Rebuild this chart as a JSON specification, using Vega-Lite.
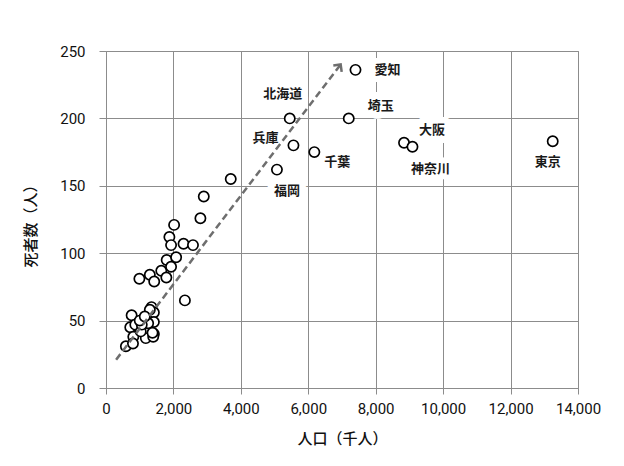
{
  "$schema": "https://vega.github.io/schema/vega-lite/v6.json",
  "autosize": {"type": "none"},
  "padding": {"left": 106, "top": 51, "right": 46, "bottom": 78},
  "width": 472,
  "height": 337,
  "background": "white",
  "config": {
    "view": {"stroke": "#8c8c8c", "strokeWidth": 1},
    "axis": {
      "gridColor": "#8c8c8c", "gridOpacity": 1, "gridWidth": 1,
      "domainColor": "#8c8c8c", "tickColor": "#8c8c8c",
      "labelFont": "Roboto", "labelFontSize": 15, "labelColor": "#111111", "labelOverlap": false, "labelFlush": false,
      "titleFont": "Noto Sans CJK JP", "titleFontSize": 15, "titleFontWeight": 500, "titleColor": "#111111"
    }
  },
  "datasets": {
    "pts": [
      {"name": "愛知", "pop": 7400, "deaths": 236},
      {"name": "北海道", "pop": 5450, "deaths": 200},
      {"name": "埼玉", "pop": 7200, "deaths": 200},
      {"name": "兵庫", "pop": 5560, "deaths": 180},
      {"name": "千葉", "pop": 6180, "deaths": 175},
      {"name": "福岡", "pop": 5070, "deaths": 162},
      {"name": "大阪", "pop": 8840, "deaths": 182},
      {"name": "神奈川", "pop": 9090, "deaths": 179},
      {"name": "東京", "pop": 13250, "deaths": 183},
      {"name": "", "pop": 590, "deaths": 31},
      {"name": "", "pop": 720, "deaths": 45},
      {"name": "", "pop": 760, "deaths": 54},
      {"name": "", "pop": 810, "deaths": 38},
      {"name": "", "pop": 800, "deaths": 33},
      {"name": "", "pop": 870, "deaths": 47},
      {"name": "", "pop": 990, "deaths": 81},
      {"name": "", "pop": 1120, "deaths": 51},
      {"name": "", "pop": 1170, "deaths": 41},
      {"name": "", "pop": 1180, "deaths": 37},
      {"name": "", "pop": 1300, "deaths": 84},
      {"name": "", "pop": 1350, "deaths": 60},
      {"name": "", "pop": 1420, "deaths": 56},
      {"name": "", "pop": 1430, "deaths": 79},
      {"name": "", "pop": 1420, "deaths": 40},
      {"name": "", "pop": 1420, "deaths": 49},
      {"name": "", "pop": 1300, "deaths": 58},
      {"name": "", "pop": 1030, "deaths": 42},
      {"name": "", "pop": 1250, "deaths": 48},
      {"name": "", "pop": 1640, "deaths": 87},
      {"name": "", "pop": 1790, "deaths": 82},
      {"name": "", "pop": 1800, "deaths": 95},
      {"name": "", "pop": 1880, "deaths": 112},
      {"name": "", "pop": 1930, "deaths": 106},
      {"name": "", "pop": 1930, "deaths": 90},
      {"name": "", "pop": 2020, "deaths": 121},
      {"name": "", "pop": 2080, "deaths": 97},
      {"name": "", "pop": 2300, "deaths": 107},
      {"name": "", "pop": 2340, "deaths": 65},
      {"name": "", "pop": 2580, "deaths": 106},
      {"name": "", "pop": 2800, "deaths": 126},
      {"name": "", "pop": 2900, "deaths": 142},
      {"name": "", "pop": 3700, "deaths": 155},
      {"name": "", "pop": 1400, "deaths": 38},
      {"name": "", "pop": 1060, "deaths": 47},
      {"name": "", "pop": 1000, "deaths": 50},
      {"name": "", "pop": 1150, "deaths": 53},
      {"name": "", "pop": 1380, "deaths": 41}
    ],
    "arrow": [
      {"pop": 300, "deaths": 21, "end": false},
      {"pop": 6960, "deaths": 240, "end": true}
    ]
  },
  "encoding": {
    "x": {"field": "pop", "type": "quantitative",
      "scale": {"domain": [0, 14000], "nice": false},
      "axis": {"values": [0, 2000, 4000, 6000, 8000, 10000, 12000, 14000], "format": ",.0f", "title": "人口（千人）", "tickSize": 6, "labelPadding": 7, "titlePadding": 15}},
    "y": {"field": "deaths", "type": "quantitative",
      "scale": {"domain": [0, 250], "nice": false},
      "axis": {"values": [0, 50, 100, 150, 200, 250], "title": "死者数（人）", "tickSize": 7, "labelPadding": 14, "titleX": -68, "titleY": 171, "domain": false}}
  },
  "layer": [
    {
      "data": {"name": "pts"},
      "transform": [{"filter": "datum.name != ''"}],
      "layer": [
        {"transform": [{"filter": "datum.name == '愛知'"}], "mark": {"type": "text", "dx": 32, "dy": 0, "text": {"expr": "datum.name"}, "stroke": "white", "strokeWidth": 12, "strokeJoin": "round", "fill": "white", "font": "Noto Sans CJK JP", "fontSize": 13}},
        {"transform": [{"filter": "datum.name == '北海道'"}], "mark": {"type": "text", "dx": -7, "dy": -24, "text": {"expr": "datum.name"}, "stroke": "white", "strokeWidth": 12, "strokeJoin": "round", "fill": "white", "font": "Noto Sans CJK JP", "fontSize": 13}},
        {"transform": [{"filter": "datum.name == '埼玉'"}], "mark": {"type": "text", "dx": 32, "dy": -12, "text": {"expr": "datum.name"}, "stroke": "white", "strokeWidth": 14, "strokeJoin": "round", "fill": "white", "font": "Noto Sans CJK JP", "fontSize": 13}},
        {"transform": [{"filter": "datum.name == '兵庫'"}], "mark": {"type": "text", "dx": -28, "dy": -7, "text": {"expr": "datum.name"}, "stroke": "white", "strokeWidth": 10, "strokeJoin": "round", "fill": "white", "font": "Noto Sans CJK JP", "fontSize": 13}},
        {"transform": [{"filter": "datum.name == '千葉'"}], "mark": {"type": "text", "dx": 23, "dy": 10, "text": {"expr": "datum.name"}, "stroke": "white", "strokeWidth": 10, "strokeJoin": "round", "fill": "white", "font": "Noto Sans CJK JP", "fontSize": 13}},
        {"transform": [{"filter": "datum.name == '福岡'"}], "mark": {"type": "text", "dx": 10, "dy": 21, "text": {"expr": "datum.name"}, "stroke": "white", "strokeWidth": 14, "strokeJoin": "round", "fill": "white", "font": "Noto Sans CJK JP", "fontSize": 13}},
        {"transform": [{"filter": "datum.name == '大阪'"}], "mark": {"type": "text", "dx": 28, "dy": -13, "text": {"expr": "datum.name"}, "stroke": "white", "strokeWidth": 14, "strokeJoin": "round", "fill": "white", "font": "Noto Sans CJK JP", "fontSize": 13}},
        {"transform": [{"filter": "datum.name == '神奈川'"}], "mark": {"type": "text", "dx": 18, "dy": 22, "text": {"expr": "datum.name"}, "stroke": "white", "strokeWidth": 12, "strokeJoin": "round", "fill": "white", "font": "Noto Sans CJK JP", "fontSize": 13}},
        {"transform": [{"filter": "datum.name == '東京'"}], "mark": {"type": "text", "dx": -5, "dy": 21, "text": {"expr": "datum.name"}, "stroke": "white", "strokeWidth": 12, "strokeJoin": "round", "fill": "white", "font": "Noto Sans CJK JP", "fontSize": 13}}
      ]
    },
    {
      "data": {"name": "pts"},
      "mark": {"type": "point", "shape": "circle", "filled": false, "fill": "white", "fillOpacity": 1, "stroke": "black", "strokeWidth": 1.7, "opacity": 1, "size": 105}
    },
    {
      "data": {"name": "arrow"},
      "mark": {"type": "line", "color": "#6e6e6e", "strokeWidth": 2.5, "strokeDash": [7, 4]}
    },
    {
      "data": {"name": "arrow"},
      "transform": [{"filter": "datum.end"}],
      "mark": {"type": "point", "shape": "M-1,1L0,0L1,1", "filled": false, "stroke": "#6e6e6e", "strokeWidth": 2.5, "angle": 37, "size": 110, "opacity": 1}
    },
    {
      "data": {"name": "pts"},
      "transform": [{"filter": "datum.name != ''"}],
      "layer": [
        {"transform": [{"filter": "datum.name == '愛知'"}], "mark": {"type": "text", "dx": 32, "dy": 0, "text": {"expr": "datum.name"}, "font": "Noto Sans CJK JP", "fontSize": 13, "fontWeight": "bold", "fill": "#1a1a1a"}},
        {"transform": [{"filter": "datum.name == '北海道'"}], "mark": {"type": "text", "dx": -7, "dy": -24, "text": {"expr": "datum.name"}, "font": "Noto Sans CJK JP", "fontSize": 13, "fontWeight": "bold", "fill": "#1a1a1a"}},
        {"transform": [{"filter": "datum.name == '埼玉'"}], "mark": {"type": "text", "dx": 32, "dy": -12, "text": {"expr": "datum.name"}, "font": "Noto Sans CJK JP", "fontSize": 13, "fontWeight": "bold", "fill": "#1a1a1a"}},
        {"transform": [{"filter": "datum.name == '兵庫'"}], "mark": {"type": "text", "dx": -28, "dy": -7, "text": {"expr": "datum.name"}, "font": "Noto Sans CJK JP", "fontSize": 13, "fontWeight": "bold", "fill": "#1a1a1a"}},
        {"transform": [{"filter": "datum.name == '千葉'"}], "mark": {"type": "text", "dx": 23, "dy": 10, "text": {"expr": "datum.name"}, "font": "Noto Sans CJK JP", "fontSize": 13, "fontWeight": "bold", "fill": "#1a1a1a"}},
        {"transform": [{"filter": "datum.name == '福岡'"}], "mark": {"type": "text", "dx": 10, "dy": 21, "text": {"expr": "datum.name"}, "font": "Noto Sans CJK JP", "fontSize": 13, "fontWeight": "bold", "fill": "#1a1a1a"}},
        {"transform": [{"filter": "datum.name == '大阪'"}], "mark": {"type": "text", "dx": 28, "dy": -13, "text": {"expr": "datum.name"}, "font": "Noto Sans CJK JP", "fontSize": 13, "fontWeight": "bold", "fill": "#1a1a1a"}},
        {"transform": [{"filter": "datum.name == '神奈川'"}], "mark": {"type": "text", "dx": 18, "dy": 22, "text": {"expr": "datum.name"}, "font": "Noto Sans CJK JP", "fontSize": 13, "fontWeight": "bold", "fill": "#1a1a1a"}},
        {"transform": [{"filter": "datum.name == '東京'"}], "mark": {"type": "text", "dx": -5, "dy": 21, "text": {"expr": "datum.name"}, "font": "Noto Sans CJK JP", "fontSize": 13, "fontWeight": "bold", "fill": "#1a1a1a"}}
      ]
    }
  ]
}
